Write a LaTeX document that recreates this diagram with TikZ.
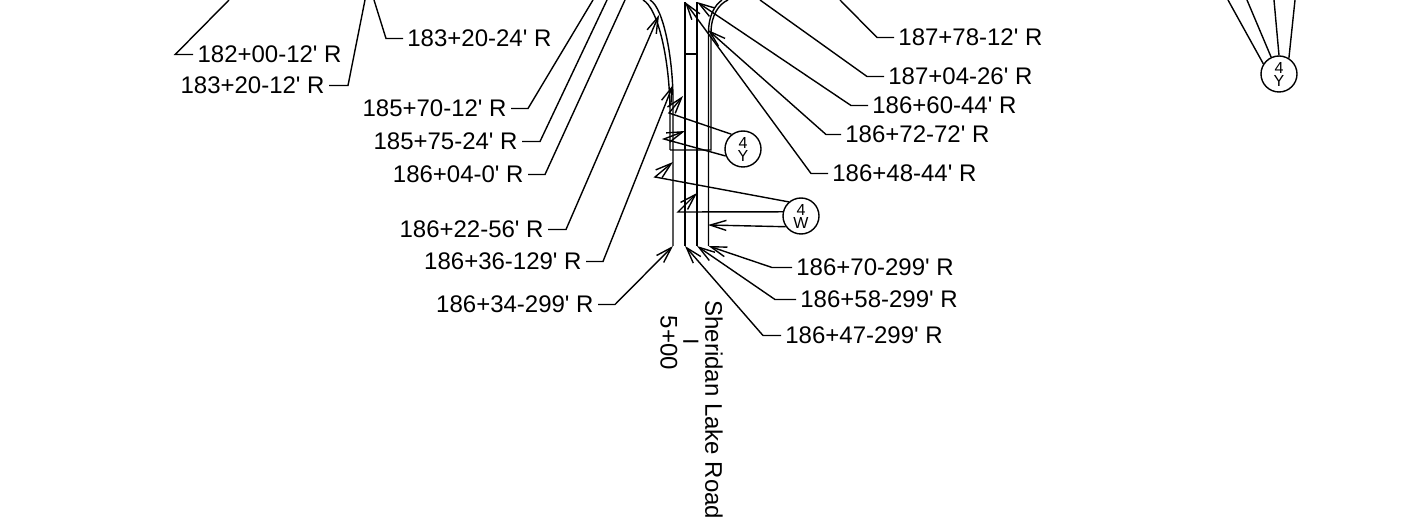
\documentclass[tikz,border=0pt]{standalone}
\usepackage{fontspec}
\setmainfont{Liberation Sans}[Ligatures=TeXOff]
\usetikzlibrary{arrows.meta}
\tikzset{
  stalabel/.style={font=\fontsize{12}{12}\selectfont, inner xsep=2pt, inner ysep=0pt},
  roadlabel/.style={font=\fontsize{12}{12}\selectfont, rotate=-90, inner sep=0pt},
  leader/.style={line width=0.7pt, -{Straight Barb[length=8pt,width=5pt]}},
  plainleader/.style={line width=0.7pt},
  road/.style={line width=0.7pt},
  bubble/.style={draw, circle, line width=0.7pt, minimum size=18pt, inner sep=0pt, align=center,
    font=\fontsize{8}{6.5}\selectfont}
}
\begin{document}
\begin{tikzpicture}[x=0.5pt,y=-0.5pt]
  \useasboundingbox (0,0) rectangle (1421,518);

  % station labels, left side
  \foreach \nm/\x/\y/\txt in {a/346/54.5/182+00-12' R, b/329/85.5/183+20-12' R, c/511/108.5/185+70-12' R,
    d/522/141.5/185+75-24' R, e/528/174.5/186+04-0' R, f/548/229.5/186+22-56' R,
    g/586/261.5/186+36-129' R, h/598/304.5/186+34-299' R}
    \node[stalabel, anchor=east] (\nm) at (\x,\y) {\txt};
  % station labels, right side
  \foreach \nm/\x/\y/\txt in {i/403/38.5/183+20-24' R, j/894/37.5/187+78-12' R, k/884/76.5/187+04-26' R,
    l/868/105.5/186+60-44' R, m/841/134.5/186+72-72' R, n/828/173.5/186+48-44' R,
    o/792/267.5/186+70-299' R, p/796/299.5/186+58-299' R, q/781/335.5/186+47-299' R}
    \node[stalabel, anchor=west] (\nm) at (\x,\y) {\txt};

  \node[roadlabel, anchor=west] (sheridan) at (714,300) {Sheridan Lake Road};
  \node[roadlabel, font=\fontsize{8}{8}\bfseries] (bar) at (691,342) {|};
  \node[roadlabel] (sta) at (669,343) {5+00};

  \node[bubble] (ya) at (743,149) {4\\Y};
  \node[bubble] (wa) at (801,216) {4\\W};
  \node[bubble] (yb) at (1279,74) {4\\Y};

  % road edges
  \coordinate (L1) at (673,246);
  \coordinate (L2) at (685,246);
  \coordinate (L3) at (697,246);
  \coordinate (L4) at (708.5,246);
  \coordinate (T2) at (685,2);
  \coordinate (T3) at (697,2);

  \draw[road] (L1) -- (673,100) .. controls (673,60) and (664,8) .. (650,0);
  \draw[road] (670,150) -- (670,113) .. controls (670,60) and (658,8) .. (643,0);
  \draw[road] (670,150) -- (711,150) -- (711,33) .. controls (711,15) and (719,4) .. (728,0);
  \draw[road] (L4) -- (708.5,33) .. controls (708.5,15) and (715,5) .. (722,0);
  \draw[road, line width=0.9pt] (L2) -- (T2);
  \draw[road] (L3) -- (T3);
  \draw[road] (685,54) -- (697,54);

  % leaders with a tip
  \draw[leader] (f.east) -- ++(18,0) -- (659,15);
  \draw[leader] (g.east) -- ++(17,0) -- (673,85);
  \draw[leader] (h.east) -- ++(17,0) -- (L1);
  \draw[leader] (l.west) -- ++(-17,0) -- (T3);
  \draw[leader] (m.west) -- ++(-15,0) -- (708,30);
  \draw[leader] (n.west) -- ++(-17,0) -- (T2);
  \draw[leader] (o.west) -- ++(-20,0) -- (L4);
  \draw[leader] (p.west) -- ++(-21,0) -- (L3);
  \draw[leader] (q.west) -- ++(-18,0) -- (L2);

  % leaders that run off the sheet
  \draw[plainleader] (a.west) -- ++(-18,0) -- (229,0);
  \draw[plainleader] (b.east) -- ++(19,0) -- (365,0);
  \draw[plainleader] (i.west) -- ++(-17,0) -- (374,0);
  \draw[plainleader] (c.east) -- ++(17,0) -- (593,0);
  \draw[plainleader] (d.east) -- ++(18,0) -- (607,0);
  \draw[plainleader] (e.east) -- ++(17,0) -- (625,0);
  \draw[plainleader] (j.west) -- ++(-17,0) -- (840,0);
  \draw[plainleader] (k.west) -- ++(-17,0) -- (760,0);

  % bubbles
  \draw[leader] (ya.128) -- (669,113) -- (683,96);
  \draw[leader] (ya.202) -- (664,139) -- (685,131);
  \draw[leader] (wa.131) -- (655,177) -- (673,162);
  \draw[leader] (wa.167) -- (678,212) -- (697,193);
  \draw[leader] (wa.215) -- (708,225);
  \foreach \ang/\tx in {147/1228,115/1247,90/1274,58/1295}
    \draw[plainleader] (yb.\ang) -- (\tx,0);
\end{tikzpicture}
\end{document}
